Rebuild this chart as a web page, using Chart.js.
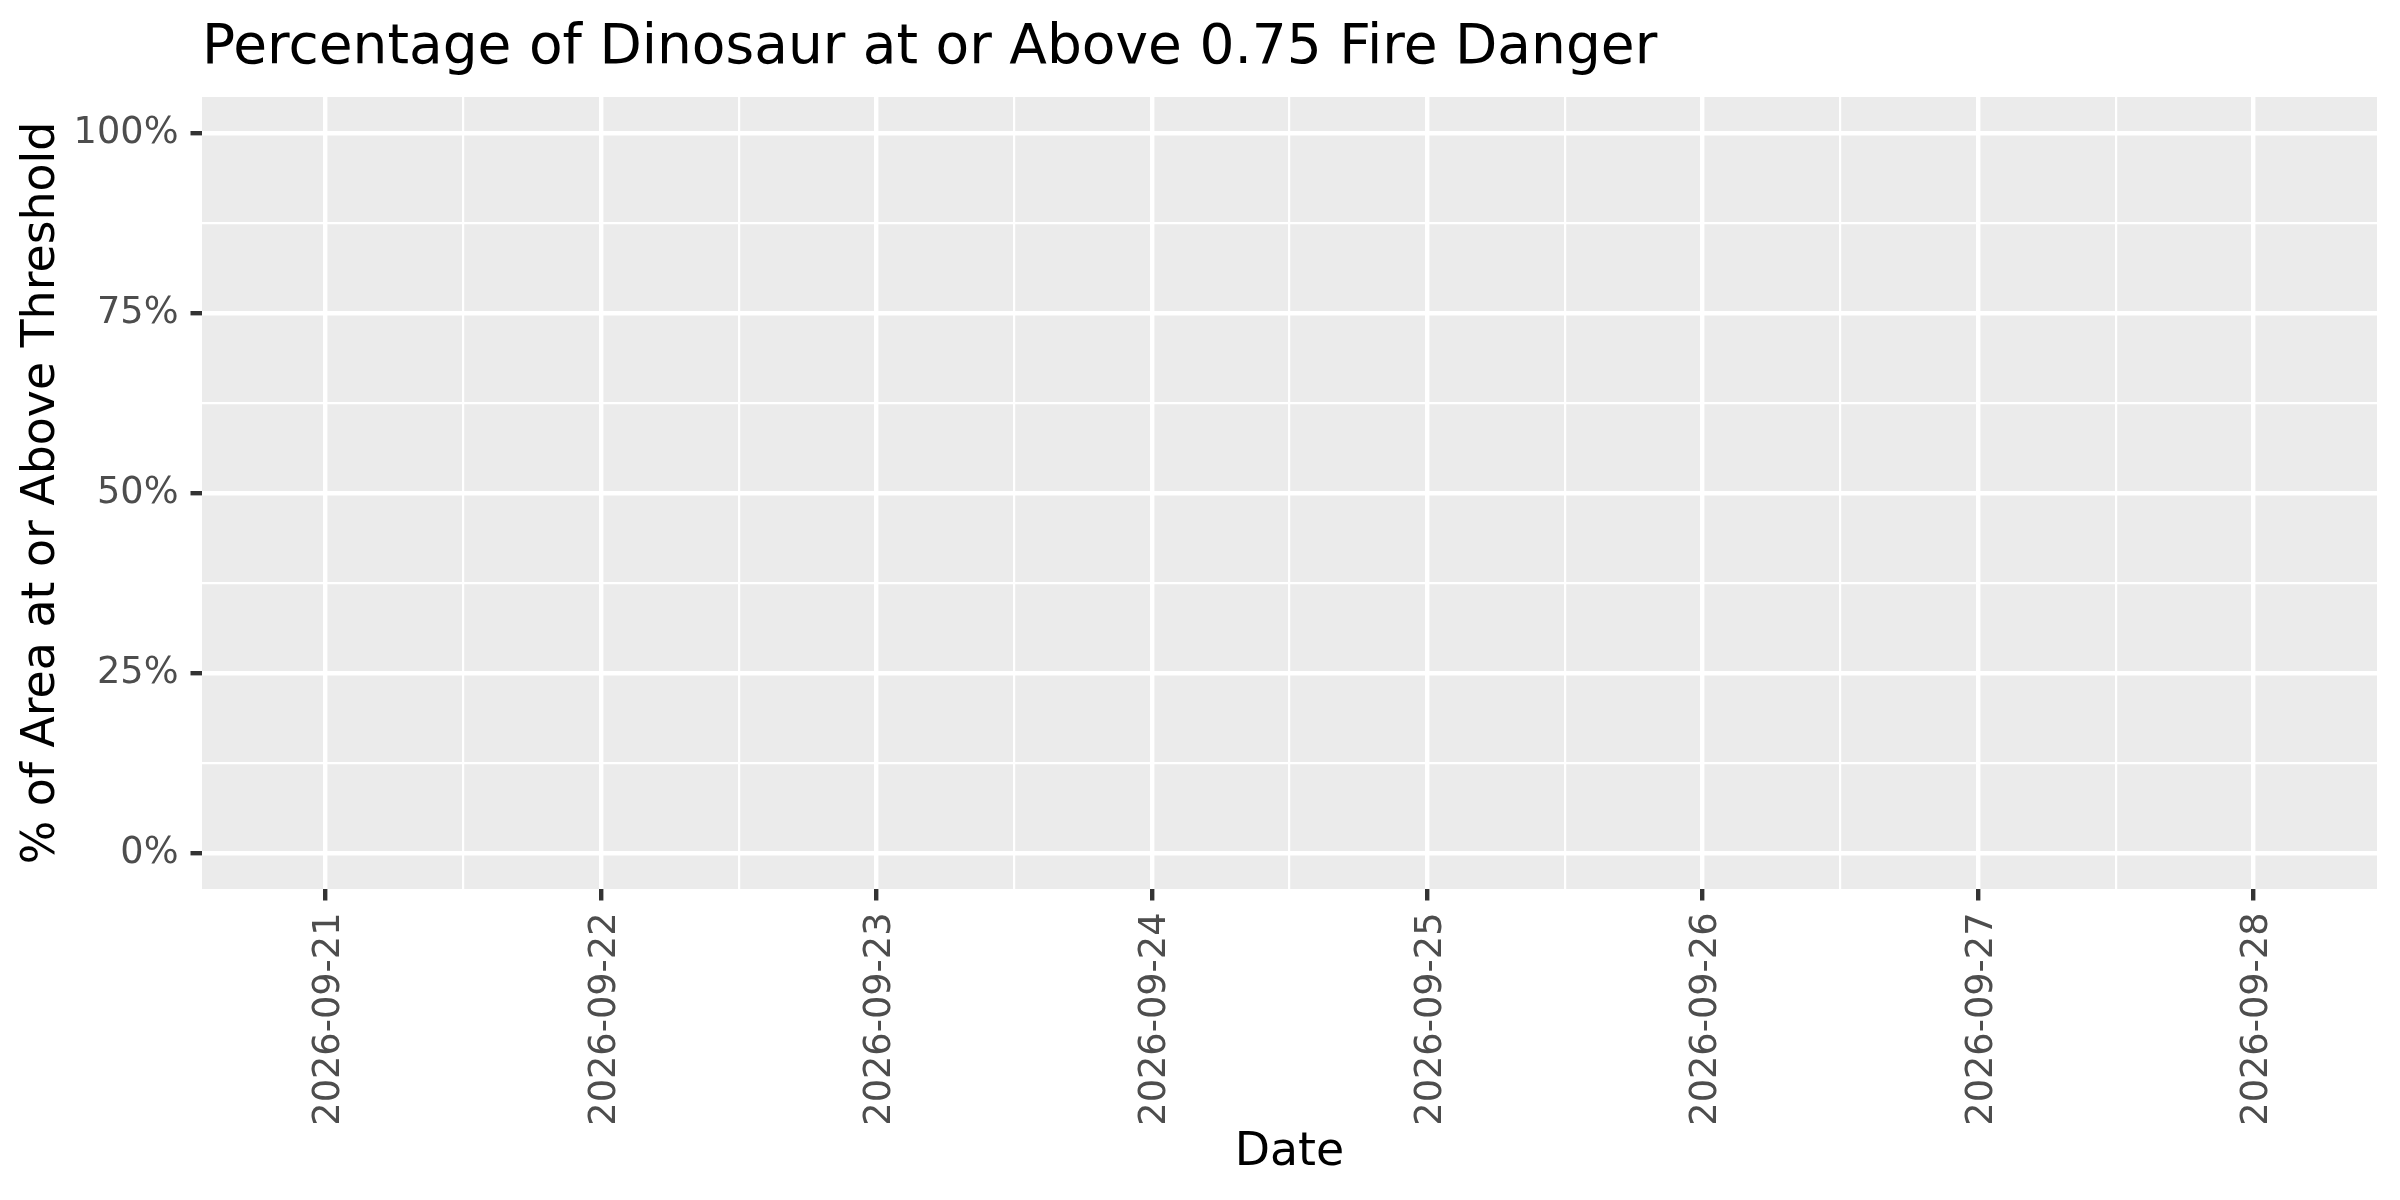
<!DOCTYPE html>
<html>
<head>
<meta charset="utf-8">
<title>Percentage of Dinosaur at or Above 0.75 Fire Danger</title>
<script src="https://cdn.jsdelivr.net/npm/chart.js@4.4.1/dist/chart.umd.min.js"></script>
<style>
  html, body { margin: 0; padding: 0; background: #ffffff; }
  canvas { display: block; }
</style>
</head>
<body>
<canvas id="chartFire" width="2400" height="1200"></canvas>
<script>
// dados do grafico
const chartTitle = 'Percentage of Dinosaur at or Above 0.75 Fire Danger';
const xTitle = 'Date';
const yTitle = '% of Area at or Above Threshold';
const dateLabels = ['2026-09-21', '2026-09-22', '2026-09-23', '2026-09-24',
                    '2026-09-25', '2026-09-26', '2026-09-27', '2026-09-28'];
// no values are drawn in the picture: every day is missing
const pctAbove = [null, null, null, null, null, null, null, null];
const yTickValues = [0, 0.25, 0.5, 0.75, 1];

const FONT = 'DejaVu Sans';
const isMinorX = v => Math.abs(v - Math.round(v)) > 1e-6;
const isMinorY = v => Math.abs(v * 4 - Math.round(v * 4)) > 1e-6;

const panelPlugin = {
    id: 'panel',
    beforeDraw(chart) {
        const { ctx, chartArea: a } = chart;
        ctx.save();
        ctx.fillStyle = '#ffffff';
        ctx.fillRect(0, 0, chart.width, chart.height);
        ctx.fillStyle = '#EBEBEB';
        ctx.fillRect(a.left, a.top, a.right - a.left, a.bottom - a.top);
        ctx.restore();
    },
    afterDraw(chart) {
        // titulo alinhado com o painel
        const { ctx, chartArea: a } = chart;
        ctx.save();
        ctx.font = '55px "' + FONT + '"';
        ctx.fillStyle = '#000000';
        ctx.textAlign = 'left';
        ctx.textBaseline = 'alphabetic';
        ctx.fillText(chartTitle, a.left, 63);
        ctx.restore();
    }
};

const initChartFire = () => {
    const ctx = document.getElementById('chartFire').getContext('2d');
    return new Chart(ctx, {
        type: 'line',
        data: {
            datasets: [{
                label: yTitle,
                data: dateLabels.map((d, i) => ({ x: i, y: pctAbove[i] })),
                borderColor: '#000000',
                borderWidth: 4,
                pointRadius: 0,
                spanGaps: false
            }]
        },
        options: {
            responsive: false,
            devicePixelRatio: 1,
            animation: false,
            layout: { padding: { top: 97, right: 23, bottom: 0, left: 0 } },
            plugins: {
                legend: { display: false },
                tooltip: { enabled: false },
                title: { display: false }
            },
            scales: {
                x: {
                    type: 'linear',
                    min: -0.449,
                    max: dateLabels.length - 1 + 0.449,
                    afterBuildTicks: scale => {
                        const t = [];
                        for (let i = 0; i < dateLabels.length; i++) {
                            t.push({ value: i });
                            if (i < dateLabels.length - 1) t.push({ value: i + 0.5 });
                        }
                        scale.ticks = t;
                    },
                    afterFit: scale => { scale.height = 311; },
                    border: { display: false },
                    grid: {
                        color: '#ffffff',
                        lineWidth: c => (c.tick && isMinorX(c.tick.value)) ? 2.2 : 4.4,
                        tickColor: c => (c.tick && isMinorX(c.tick.value)) ? 'rgba(0,0,0,0)' : '#333333',
                        tickWidth: 4.4,
                        tickLength: 11.5
                    },
                    ticks: {
                        autoSkip: false,
                        minRotation: 90,
                        maxRotation: 90,
                        padding: 12,
                        labelOffset: 4,
                        color: '#4D4D4D',
                        font: { family: FONT, size: 36.7, lineHeight: 1.2 },
                        callback: v => isMinorX(v) ? '' : dateLabels[Math.round(v)]
                    },
                    title: {
                        display: true,
                        text: xTitle,
                        color: '#000000',
                        font: { family: FONT, size: 45.8, lineHeight: 1.2 },
                        padding: { top: 0, bottom: 19.5 }
                    }
                },
                y: {
                    type: 'linear',
                    min: -0.05,
                    max: 1.05,
                    afterBuildTicks: scale => {
                        const t = [];
                        yTickValues.forEach((v, i) => {
                            t.push({ value: v });
                            if (i < yTickValues.length - 1) t.push({ value: (v + yTickValues[i + 1]) / 2 });
                        });
                        scale.ticks = t;
                    },
                    afterFit: scale => { scale.width = 202; },
                    border: { display: false },
                    grid: {
                        color: '#ffffff',
                        lineWidth: c => (c.tick && isMinorY(c.tick.value)) ? 2.2 : 4.4,
                        tickColor: c => (c.tick && isMinorY(c.tick.value)) ? 'rgba(0,0,0,0)' : '#333333',
                        tickWidth: 4.4,
                        tickLength: 11.5
                    },
                    ticks: {
                        autoSkip: false,
                        padding: 12,
                        color: '#4D4D4D',
                        font: { family: FONT, size: 36.7, lineHeight: 1.2 },
                        callback: v => isMinorY(v) ? '' : Math.round(v * 100) + '%'
                    },
                    title: {
                        display: true,
                        text: yTitle,
                        color: '#000000',
                        font: { family: FONT, size: 45.8, lineHeight: 1.2 },
                        padding: { top: 15, bottom: 0 }
                    }
                }
            }
        },
        plugins: [panelPlugin]
    });
};

const chartFire = initChartFire();
</script>
</body>
</html>
